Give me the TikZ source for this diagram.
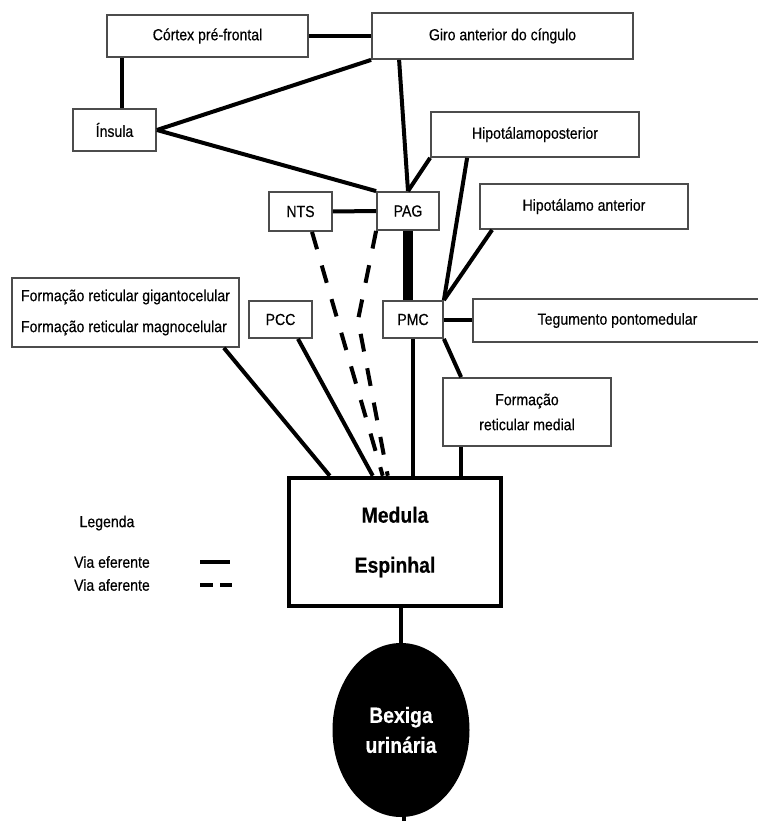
\documentclass[tikz,border=0pt]{standalone}
\usepackage{fontspec}
\setmainfont[FakeStretch=0.88,FakeBold=0.4]{Liberation Sans}
\usetikzlibrary{calc,shapes.geometric}
\tikzset{
	caixa/.style={draw=black!70, line width=1.8pt, inner sep=0pt, font=\fontsize{16}{19.2}\selectfont},
	rotulo/.style={inner sep=0pt, font=\fontsize{16}{19.2}\selectfont},
	eferente/.style={line width=4pt},
	aferente/.style={line width=4pt, dash pattern=on 18pt off 17pt},
}
\begin{document}
\begin{tikzpicture}[x=1pt, y=-1pt]
	\useasboundingbox (0,0) rectangle (757,821);
	% caixas
	\node[caixa, minimum width=201pt, minimum height=42pt] (cortex) at (207.5,36) {Córtex pré-frontal};
	\node[caixa, minimum width=261pt, minimum height=46pt] (giro) at (502.5,36) {Giro anterior do cíngulo};
	\node[caixa, minimum width=83pt, minimum height=42pt] (insula) at (114.5,130) {Ínsula};
	\node[caixa, minimum width=208pt, minimum height=45pt] (hipopost) at (535,134.5) {Hipotálamoposterior};
	\node[caixa, minimum width=63pt, minimum height=39pt] (nts) at (300.5,211.5) {NTS};
	\node[caixa, minimum width=62pt, minimum height=38pt] (pag) at (408,211) {PAG};
	\node[caixa, minimum width=208pt, minimum height=45pt] (hipoant) at (584,206.5) {Hipotálamo anterior};
	\node[caixa, minimum width=227pt, minimum height=69pt, align=left] (formgig) at (125.5,312.5) {Formação reticular gigantocelular\\[11.8pt]Formação reticular magnocelular};
	\node[caixa, minimum width=63pt, minimum height=37pt] (pcc) at (280.5,319.5) {PCC};
	\node[caixa, minimum width=60pt, minimum height=37pt] (pmc) at (413,319.5) {PMC};
	\node[caixa, minimum width=289pt, minimum height=43pt] (tegumento) at (617.5,320.5) {Tegumento pontomedular};
	\node[caixa, minimum width=168pt, minimum height=68pt, align=center] (formmed) at (527,412) {Formação\\[5.8pt]reticular medial};
	\node[draw, line width=4.5pt, minimum width=212pt, minimum height=128pt, align=center, font=\bfseries\fontsize{22}{26.4}\selectfont] (medula) at (395,542) {Medula\\[23.6pt]Espinhal};
	\node[ellipse, fill=black, text=white, minimum width=137pt, minimum height=174pt, inner sep=0pt, align=center, font=\bfseries\fontsize{22}{26.4}\selectfont] (bexiga) at (401,730) {Bexiga\\[3.6pt]urinária};
	\coordinate (desvio) at (358,320);
	% vias
	\draw[eferente] (cortex) -- (giro);
	\draw[eferente] (insula.70) -- (insula.70 |- cortex.south);
	\draw[eferente] (insula.east) -- (giro.south west);
	\draw[eferente] (insula.east) -- (pag.north west);
	\draw[eferente] ([xshift=28pt]giro.south west) -- (pag.north);
	\draw[eferente] (hipopost.south west) -- (pag.north);
	\draw[eferente] ([xshift=37pt]hipopost.south west) -- (pmc.north east);
	\draw[eferente] ([xshift=13pt]hipoant.south west) -- (pmc.north east);
	\draw[line width=10pt] (pag.south) -- (pag.south |- pmc.north);
	\draw[eferente] (nts) -- (pag);
	\draw[eferente] (pmc.east) -- (pmc.east -| tegumento.west);
	\draw[eferente] (pmc.south) -- (pmc.south |- medula.north);
	\draw[eferente] (pmc.south east) -- ([xshift=19pt]formmed.north west);
	\draw[eferente] ([xshift=19pt]formmed.south west) -- ([xshift=19pt]formmed.south west |- medula.north);
	\draw[eferente] ([xshift=-16pt]formgig.south east) -- ([xshift=43pt]medula.north west);
	\draw[eferente] ([xshift=17.5pt]pcc.south) -- ([xshift=86pt]medula.north west);
	\draw[aferente] ([xshift=11.5pt]nts.south) -- ([xshift=96pt]medula.north west);
	\draw[aferente] (pag.south west) -- (desvio) -- ([xshift=101pt]medula.north west);
	\draw[eferente] (bexiga.north |- medula.south) -- (bexiga.north);
	\draw[eferente] ([xshift=3pt]bexiga.south) -- ++(0,8);
	% legenda
	\node[rotulo] (legenda) at (107,523) {Legenda};
	\node[rotulo] (efe) at (112,562) {Via eferente};
	\node[rotulo] (afe) at (112,585) {Via aferente};
	\draw[eferente] ([xshift=50pt]efe.east) -- ++(30,0);
	\draw[eferente, dash pattern=on 13pt off 7pt] ([xshift=50pt]afe.east) -- ++(32,0);
\end{tikzpicture}
\end{document}
